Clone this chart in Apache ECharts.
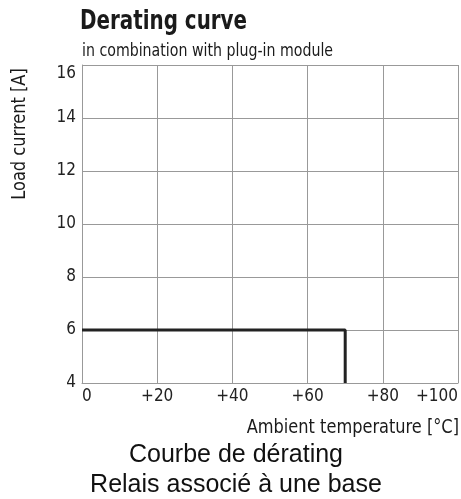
<!DOCTYPE html>
<html>
<head>
<meta charset="utf-8">
<script src="https://cdn.jsdelivr.net/npm/echarts@6/dist/echarts.min.js"></script>
<style>
html,body{margin:0;padding:0;background:#fff;}
#c{width:461px;height:499px;}
</style>
</head>
<body>
<div id="c"></div>
<script>
// Data
var temperatures = [0, 70, 70];
var loadCurrent = [6, 6, 4];
var xTicks = ['0', '+20', '+40', '+60', '+80', '+100'];
var yTicks = ['4', '6', '8', '10', '12', '14', '16'];
var titleText = 'Derating curve';
var subtitleText = 'in combination with plug-in module';
var xAxisName = 'Ambient temperature [°C]';
var yAxisName = 'Load current [A]';
var frenchLine1 = 'Courbe de dérating';
var frenchLine2 = 'Relais associé à une base';

var NARROW = '"DejaVu Sans Condensed", "Liberation Sans Narrow", sans-serif';
var chart = echarts.init(document.getElementById('c'), null, {renderer: 'canvas'});
var seriesData = temperatures.map(function (t, i) { return [t, loadCurrent[i]]; });

chart.setOption({
  animation: false,
  backgroundColor: '#fff',
  grid: {left: 82, top: 65, right: 3, bottom: 116, containLabel: false},
  xAxis: {
    type: 'value', min: 0, max: 100, interval: 20,
    axisLine: {show: true, lineStyle: {color: '#999', width: 1}},
    axisTick: {show: false},
    splitLine: {show: true, lineStyle: {color: '#999', width: 1}},
    axisLabel: {
      color: '#222', fontFamily: NARROW, fontSize: 17, margin: 5,
      alignMinLabel: 'left', alignMaxLabel: 'right',
      formatter: function (v) { return xTicks[Math.round(v / 20)]; }
    }
  },
  yAxis: {
    type: 'value', min: 4, max: 16, interval: 2,
    axisLine: {show: true, lineStyle: {color: '#999', width: 1}},
    axisTick: {show: false},
    splitLine: {show: true, lineStyle: {color: '#999', width: 1}},
    axisLabel: {
      color: '#222', fontFamily: NARROW, fontSize: 17, margin: 6,
      verticalAlignMaxLabel: 'top',
      formatter: function (v) { return yTicks[Math.round((v - 4) / 2)]; }
    }
  },
  series: [{
    type: 'line',
    data: seriesData,
    showSymbol: false,
    symbol: 'none',
    lineStyle: {color: '#222', width: 3},
    clip: false
  }],
  graphic: [
    {type: 'text', x: 80, y: 9, scaleX: 0.85,
      style: {text: titleText, font: 'bold 26px ' + NARROW, fill: '#1a1a1a', verticalAlign: 'top'}},
    {type: 'text', x: 82, y: 42, scaleX: 0.875,
      style: {text: subtitleText, font: '18px ' + NARROW, fill: '#1a1a1a', verticalAlign: 'top'}},
    {type: 'text', x: 20, y: 134, rotation: Math.PI / 2, scaleX: 0.95,
      style: {text: yAxisName, font: '19px ' + NARROW, fill: '#1a1a1a', align: 'center', verticalAlign: 'middle'}},
    {type: 'text', x: 459, y: 428, scaleX: 0.9,
      style: {text: xAxisName, font: '20px ' + NARROW, fill: '#1a1a1a', align: 'right', verticalAlign: 'middle'}},
    {type: 'text', x: 236, y: 455,
      style: {text: frenchLine1, font: '25px "Liberation Sans", Arial, sans-serif', fill: '#111', align: 'center', verticalAlign: 'middle'}},
    {type: 'text', x: 236, y: 485,
      style: {text: frenchLine2, font: '25px "Liberation Sans", Arial, sans-serif', fill: '#111', align: 'center', verticalAlign: 'middle'}}
  ]
});
</script>
</body>
</html>
